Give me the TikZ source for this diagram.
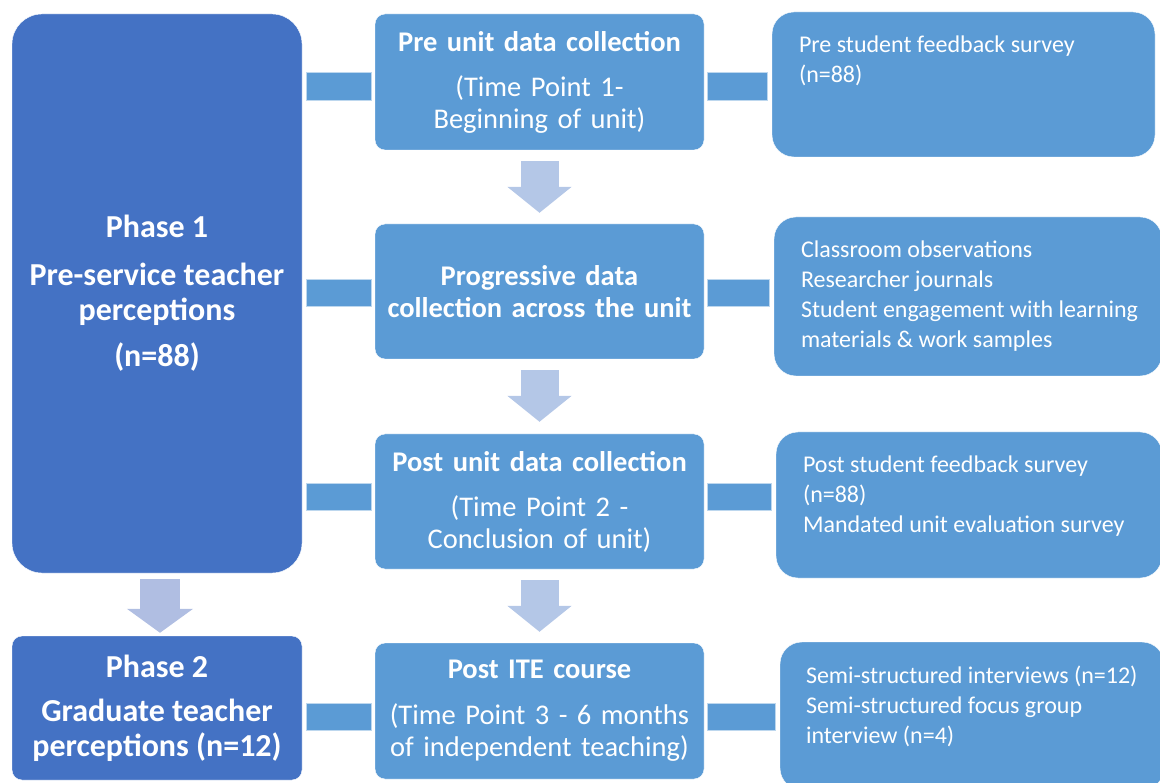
\documentclass[tikz,border=0pt]{standalone}
\usepackage{fontspec}
\setmainfont{Carlito}
\usepackage{tikz}
\usetikzlibrary{arrows.meta}

\definecolor{phaseblue}{HTML}{4472C4}
\definecolor{stageblue}{HTML}{5B9BD5}
\definecolor{flowblue}{HTML}{B4C7E7}
\definecolor{flowlilac}{HTML}{B0BEE2}

% text block hung from the top of a source box
\newcommand{\toplist}[3]{\parbox[c][#1][t]{#2}{\raggedright\vspace*{24pt}#3}}

\begin{document}
\begin{tikzpicture}
	[x=1pt, y=-1pt,
	phase/.style={fill=phaseblue, draw=white, rounded corners=10pt, text=white,
		font=\fontsize{32}{35}\selectfont\bfseries, align=center, inner sep=0pt,
		minimum width=290pt},
	stage/.style={fill=stageblue, draw=white, rounded corners=10pt, text=white,
		font=\fontsize{28.5}{32}\selectfont, align=center, text width=325pt,
		minimum width=329pt, minimum height=135pt, inner sep=0pt},
	source/.style={fill=stageblue, draw=white, rounded corners=22pt, text=white,
		font=\fontsize{24}{30}\selectfont, inner sep=0pt},
	bar/.style={draw=white!60!stageblue, fill=stageblue, line width=0.8pt},
	flow/.style={flowblue, line width=38pt, -{Triangle[width=63pt, length=26pt]}}]
	\useasboundingbox (0,0) rectangle (1160,783);

	\node[phase, rounded corners=30pt, minimum height=559pt] (phase1) at (157,293.5)
		{Phase 1\\[13pt]Pre-service teacher\\perceptions\\[11pt](n=88)};
	\node[phase, minimum height=144pt] (phase2) at (157,708)
		{Phase 2\\[9pt]Graduate teacher\\perceptions (n=12)};

	\node[stage, minimum height=136pt] (pre) at (539.5,82)
		{\textbf{Pre unit data collection}\\[13pt](Time Point 1-\\Beginning of unit)};
	\node[stage] (prog) at (539.5,291.5)
		{\textbf{Progressive data}\\\textbf{collection across the unit}};
	\node[stage] (post) at (539.5,501.5)
		{\textbf{Post unit data collection}\\[13pt](Time Point 2 -\\Conclusion of unit)};
	\node[stage, minimum height=136pt] (ite) at (539.5,711)
		{\textbf{Post ITE course}\\[14pt](Time Point 3 - 6 months\\of independent teaching)};

	\node[source, minimum width=383pt, minimum height=145pt] (survey) at (963.5,84.5)
		{\toplist{145pt}{329pt}{Pre student feedback survey\\(n=88)}};
	\node[source, minimum width=388pt, minimum height=159pt] (observe) at (968,296.5)
		{\toplist{159pt}{334pt}{Classroom observations\\Researcher journals\\
			\mbox{Student engagement with learning}\\materials \& work samples}};
	\node[source, minimum width=386pt, minimum height=146pt] (evaluate) at (969,505)
		{\toplist{146pt}{332pt}{Post student feedback survey\\(n=88)\\
			\mbox{Mandated unit evaluation survey}}};
	\node[source, minimum width=384pt, minimum height=148pt] (interview) at (972,716)
		{\toplist{148pt}{332pt}{\mbox{Semi-structured interviews (n=12)}\\
			Semi-structured focus group\\interview (n=4)}};

	% links across each row
	\draw[bar] ([xshift=4pt]phase1.east |- 0,72) rectangle ([xshift=-3pt]pre.west |- 0,100);
	\draw[bar] ([xshift=4pt]phase1.east |- 0,279) rectangle ([xshift=-3pt]prog.west |- 0,306);
	\draw[bar] ([xshift=4pt]phase1.east |- 0,483) rectangle ([xshift=-3pt]post.west |- 0,510);
	\draw[bar] ([xshift=4pt]phase2.east |- 0,703) rectangle ([xshift=-3pt]ite.west |- 0,730);
	\draw[bar] ([xshift=3pt]pre.east |- 0,72) rectangle ([xshift=-4pt]survey.west |- 0,100);
	\draw[bar] ([xshift=3pt]prog.east |- 0,279) rectangle ([xshift=-4pt]observe.west |- 0,306);
	\draw[bar] ([xshift=3pt]post.east |- 0,483) rectangle ([xshift=-4pt]evaluate.west |- 0,510);
	\draw[bar] ([xshift=3pt]ite.east |- 0,703) rectangle ([xshift=-4pt]interview.west |- 0,730);

	% downward steps
	\draw[flow] ([yshift=-11pt]pre.south) -- ([yshift=11pt]prog.north);
	\draw[flow] ([yshift=-11pt]prog.south) -- ([yshift=12pt]post.north);
	\draw[flow] ([yshift=-11pt]post.south) -- ([yshift=11pt]ite.north);
	\draw[flow, flowlilac, line width=40pt, -{Triangle[width=65pt, length=24pt]}]
		([xshift=3pt, yshift=-6pt]phase1.south) -- ([xshift=3pt, yshift=3pt]phase2.north);
\end{tikzpicture}
\end{document}
